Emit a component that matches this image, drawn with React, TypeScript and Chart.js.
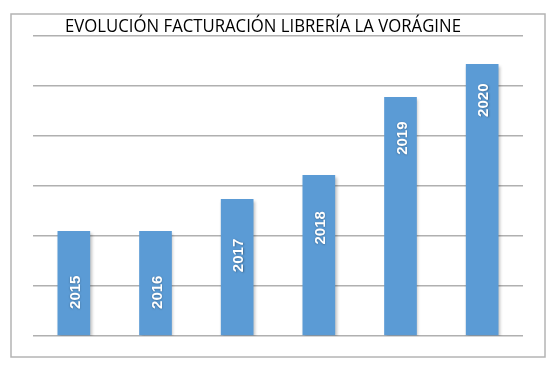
import React, { useEffect, useRef } from "react";
import { Chart, registerables } from "chart.js";

Chart.register(...registerables);

const TITLE = "EVOLUCIÓN FACTURACIÓN LIBRERÍA LA VORÁGINE";
const years = ["2015", "2016", "2017", "2018", "2019", "2020"];
const revenue = [2.1, 2.1, 2.74, 3.22, 4.78, 5.44];
const yMax = 6;

const frameAndText = {
  id: "frameAndText",
  beforeDraw(chart: any) {
    const ctx = chart.ctx;
    ctx.save();
    ctx.fillStyle = "#ffffff";
    ctx.fillRect(0, 0, chart.width, chart.height);
    ctx.strokeStyle = "#b4b4b4";
    ctx.lineWidth = 1.5;
    ctx.strokeRect(11, 14, 534, 343);
    ctx.restore();
  },
  beforeDatasetsDraw(chart: any) {
    const ctx = chart.ctx;
    ctx.save();
    ctx.shadowColor = "rgba(0,0,0,0.25)";
    ctx.shadowBlur = 3;
    ctx.shadowOffsetX = 1.5;
    ctx.shadowOffsetY = 1.5;
  },
  afterDatasetsDraw(chart: any) {
    const ctx = chart.ctx;
    ctx.restore();
    const meta = chart.getDatasetMeta(0);
    const ys = chart.scales.y;
    ctx.save();
    ctx.font = "bold 15px 'Liberation Sans', Arial, sans-serif";
    ctx.fillStyle = "#ffffff";
    ctx.textAlign = "center";
    ctx.textBaseline = "middle";
    ctx.shadowColor = "rgba(0,0,0,0.35)";
    ctx.shadowBlur = 2;
    ctx.shadowOffsetX = 0.5;
    ctx.shadowOffsetY = 0.5;
    meta.data.forEach((bar: any, i: number) => {
      const v = revenue[i];
      const y = ys.getPixelForValue(1.15 * v - 1.54);
      ctx.save();
      ctx.translate(bar.x + 2, y);
      ctx.rotate(-Math.PI / 2);
      ctx.fillText(years[i], 0, 0);
      ctx.restore();
    });
    ctx.restore();
  },
  afterDraw(chart: any) {
    const ctx = chart.ctx;
    const ca = chart.chartArea;
    ctx.save();
    ctx.font = "18px 'Open Sans', sans-serif";
    ctx.fillStyle = "#000000";
    ctx.textAlign = "center";
    ctx.textBaseline = "alphabetic";
    ctx.translate((ca.left + ca.right) / 2 - 15, ca.top - 4);
    ctx.scale(0.93, 1);
    ctx.fillText(TITLE, 0, 0);
    ctx.restore();
  },
};

export default function App() {
  const ref = useRef<HTMLCanvasElement>(null);
  useEffect(() => {
    if (!ref.current) return;
    const chart = new Chart(ref.current, {
      type: "bar",
      data: {
        labels: years,
        datasets: [
          {
            data: revenue,
            backgroundColor: "#5B9BD5",
            borderWidth: 0,
            barPercentage: 0.4,
            categoryPercentage: 1,
          },
        ],
      },
      options: {
        animation: false,
        responsive: false,
        maintainAspectRatio: false,
        layout: { padding: { left: 33, right: 30, top: 36, bottom: 30 } },
        plugins: {
          legend: { display: false },
          title: { display: false },
          tooltip: { enabled: false },
        },
        scales: {
          x: { display: false },
          y: {
            display: true,
            min: 0,
            max: yMax,
            ticks: { display: false, stepSize: 1 },
            grid: { color: "#b0b0b0", lineWidth: 1.5, drawTicks: false },
            border: { display: false },
          },
        },
      },
      plugins: [frameAndText],
    });
    return () => chart.destroy();
  }, []);
  return (
    <div style={{ position: "fixed", left: 0, top: 0, width: 553, height: 366 }}>
      <canvas ref={ref} width={553} height={366} style={{ width: 553, height: 366 }} />
    </div>
  );
}
